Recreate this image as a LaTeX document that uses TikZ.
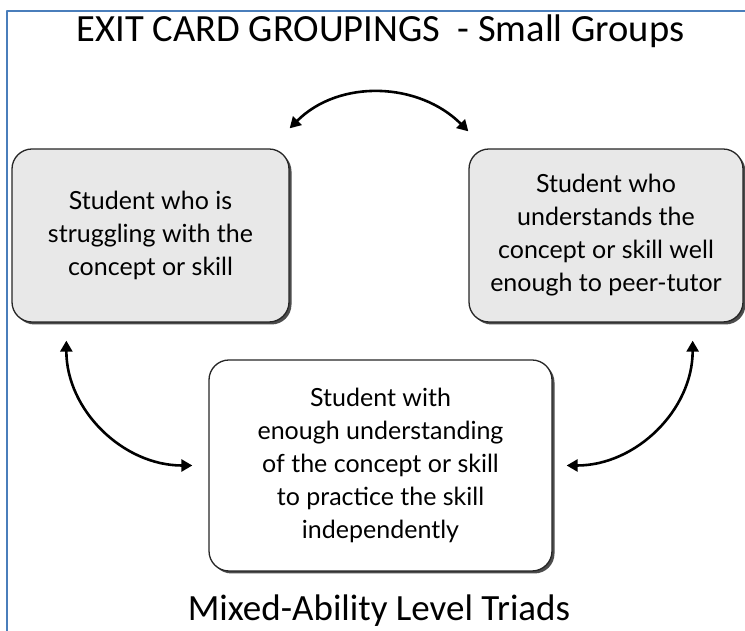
\documentclass[tikz,border=0pt]{standalone}
\usepackage{fontspec}
\setmainfont{Lato}
\newfontfamily\headfont{Carlito}
\usetikzlibrary{arrows.meta,shadows}
\definecolor{frameblue}{RGB}{74,126,187}
\definecolor{cardgray}{RGB}{232,232,232}
\begin{document}
\begin{tikzpicture}[x=1pt,y=1pt,line join=round,line cap=round,
  >={Triangle[length=11pt,width=12pt]},
  card/.style={draw=black!85,line width=1.3pt,rounded corners=20pt,
    align=center,inner sep=0pt,font=\fontsize{25}{33}\selectfont,
    drop shadow={shadow xshift=2.5pt,shadow yshift=-2.5pt,fill=black!70,opacity=1}},
  link/.style={<->,line width=2.6pt},
  head/.style={anchor=base,font=\headfont\fontsize{37}{37}\selectfont}]
	\useasboundingbox (0,0) rectangle (745,631);
	\draw[frameblue,line width=2pt] (7,0) -- (7,620) -- (745,620);
	% headings
	\node[head,font=\headfont\fontsize{38.5}{38.5}\selectfont] (title) at (380.5,589) {EXIT CARD GROUPINGS\ \ - Small Groups};
	\node[head] (triads) at (379,10) {Mixed-Ability Level Triads};
	% the three students
	\node[card,fill=cardgray,minimum width=277pt,minimum height=173pt] (struggle)
	at (150.5,395.5) {Student who is\\struggling with the\\concept or skill};
	\node[card,fill=cardgray,minimum width=274pt,minimum height=173pt] (tutor)
	at (606,395.5) {Student who\\understands the\\concept or skill well\\enough to peer-tutor};
	\node[card,fill=white,minimum width=343pt,minimum height=211pt] (triad)
	at (380.5,165.5) {Student with\\enough understanding\\of the concept or skill\\to practice the skill\\independently};
	% arrows
	\draw[link] ([yshift=20pt]struggle.north east) to[out=45,in=135] ([yshift=17pt]tutor.north west);
	\draw[link] ([xshift=55pt,yshift=-18pt]struggle.south west) to[out=-90,in=180] ([xshift=-16pt]triad.west);
	\draw[link] ([xshift=-51pt,yshift=-18pt]tutor.south east) to[out=-90,in=0] ([xshift=14pt]triad.east);
\end{tikzpicture}
\end{document}
